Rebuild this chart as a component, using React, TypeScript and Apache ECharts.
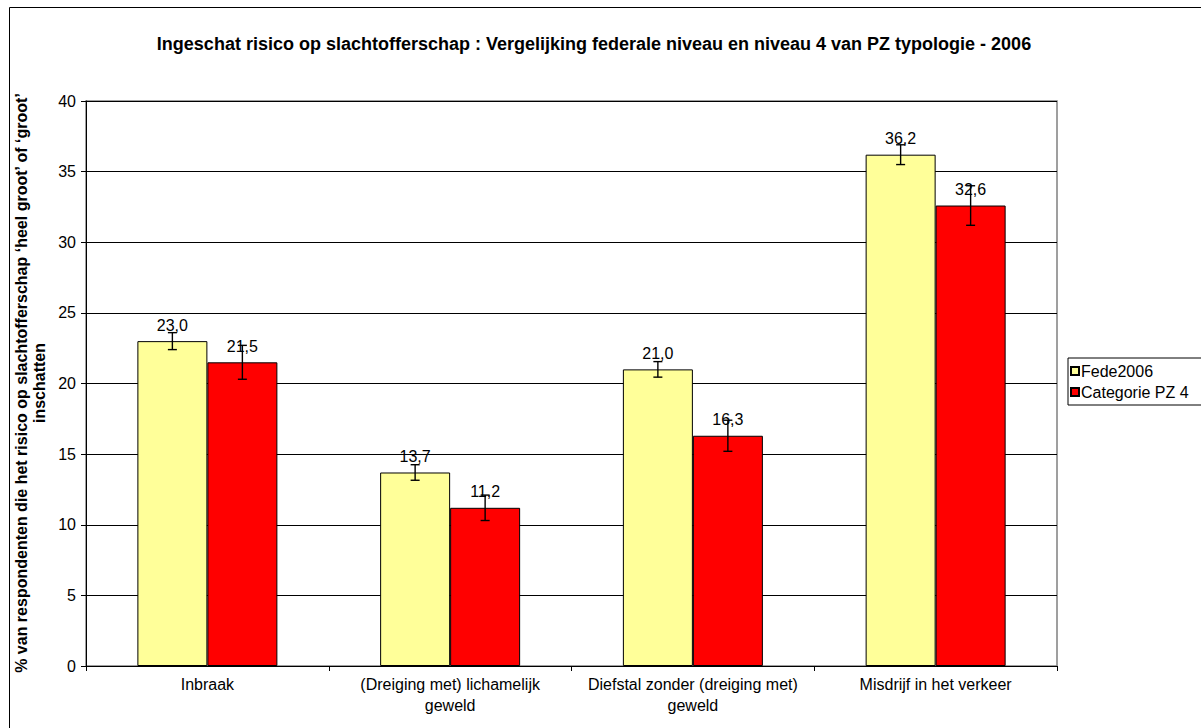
import React, { useEffect, useRef } from "react";
import * as echarts from "echarts";

const categories = [
  "Inbraak",
  "(Dreiging met) lichamelijk\ngeweld",
  "Diefstal zonder (dreiging met)\ngeweld",
  "Misdrijf in het verkeer",
];
const fedeValues = [23.0, 13.7, 21.0, 36.2];
const pzValues = [21.5, 11.2, 16.3, 32.6];
const fedeErrors = [0.6, 0.55, 0.55, 0.7];
const pzErrors = [1.2, 0.9, 1.1, 1.4];
const seriesNames = ["Fede2006", "Categorie PZ 4"];
const title =
  "Ingeschat risico op slachtofferschap : Vergelijking federale niveau en niveau 4 van PZ typologie - 2006";
const yTitle =
  "% van respondenten die het risico op slachtofferschap \u2018heel groot\u2019 of \u2018groot\u2019\ninschatten";

const FONT = "Arial, 'Liberation Sans', sans-serif";
const BAR_W = 70;

function errorSeries(values: number[], errors: number[], offset: number) {
  return {
    type: "custom",
    z: 10,
    silent: true,
    data: values.map((v, i) => [i, v, errors[i]]),
    encode: { x: 0, y: 1 },
    renderItem: (params: any, api: any) => {
      const xi = api.value(0);
      const v = api.value(1);
      const e = api.value(2);
      const top = api.coord([xi, v + e]);
      const bot = api.coord([xi, v - e]);
      const x = top[0] + offset;
      const style = { stroke: "#000", lineWidth: 1.4 };
      return {
        type: "group",
        children: [
          { type: "line", shape: { x1: x, y1: top[1], x2: x, y2: bot[1] }, style },
          { type: "line", shape: { x1: x - 4.5, y1: top[1], x2: x + 4.5, y2: top[1] }, style },
          { type: "line", shape: { x1: x - 4.5, y1: bot[1], x2: x + 4.5, y2: bot[1] }, style },
        ],
      };
    },
  };
}

export default function App() {
  const ref = useRef<HTMLDivElement>(null);
  useEffect(() => {
    const chart = echarts.init(ref.current!, null, { renderer: "svg" });
    const labelCfg = {
      show: true,
      position: "top",
      distance: 8,
      color: "#000",
      fontFamily: FONT,
      fontSize: 16,
      formatter: (p: any) => p.value.toFixed(1).replace(".", ","),
    };
    chart.setOption({
      animation: false,
      backgroundColor: "#fff",
      textStyle: { fontFamily: FONT },
      title: {
        text: title,
        left: 589,
        top: 30,
        textAlign: "center",
        textStyle: { fontFamily: FONT, fontSize: 18, fontWeight: "bold", color: "#000" },
      },
      legend: {
        orient: "vertical",
        left: 1068,
        top: 358,
        padding: [5, 30, 5, 2],
        itemWidth: 8,
        itemHeight: 8,
        itemGap: 5,
        borderColor: "#000",
        borderWidth: 1,
        backgroundColor: "#fff",
        icon: "rect",
        textStyle: { fontFamily: FONT, fontSize: 16, lineHeight: 16, color: "#000", padding: [0, 0, 0, -3] },
        data: seriesNames,
      },
      grid: { left: 86, top: 101, width: 971, height: 565, show: true, borderColor: "#808080", borderWidth: 1.5, backgroundColor: "#fff" },
      xAxis: {
        type: "category",
        data: categories,
        axisLine: { lineStyle: { color: "#000", width: 1 } },
        axisTick: { show: true, length: 5, lineStyle: { color: "#000" } },
        axisLabel: { color: "#000", fontFamily: FONT, fontSize: 16, lineHeight: 21, margin: 8, interval: 0 },
      },
      yAxis: {
        type: "value",
        min: 0,
        max: 40,
        interval: 5,
        axisLine: { show: true, lineStyle: { color: "#000", width: 1 } },
        axisTick: { show: true, length: 5, lineStyle: { color: "#000" } },
        axisLabel: { color: "#000", fontFamily: FONT, fontSize: 16, margin: 10 },
        splitLine: { lineStyle: { color: "#000", width: 1 } },
      },
      graphic: [
        {
          type: "rect",
          shape: { x: 9.5, y: 7.5, width: 1400, height: 900 },
          style: { fill: "none", stroke: "#000", lineWidth: 1 },
          silent: true,
          z: 100,
        },
        {
          type: "text",
          x: 30,
          y: 383,
          rotation: Math.PI / 2,
          style: {
            text: yTitle,
            fill: "#000",
            font: `bold 16px ${FONT}`,
            align: "center",
            verticalAlign: "middle",
            lineHeight: 18,
          },
        },
      ],
      series: [
        {
          name: seriesNames[0],
          type: "bar",
          data: fedeValues,
          barWidth: BAR_W,
          barGap: "0%",
          itemStyle: { color: "#FFFF99", borderColor: "#000", borderWidth: 1 },
          label: labelCfg,
        },
        {
          name: seriesNames[1],
          type: "bar",
          data: pzValues,
          barWidth: BAR_W,
          barGap: "0%",
          itemStyle: { color: "#FF0000", borderColor: "#000", borderWidth: 1 },
          label: labelCfg,
        },
        errorSeries(fedeValues, fedeErrors, -BAR_W / 2),
        errorSeries(pzValues, pzErrors, BAR_W / 2),
      ],
    });
    return () => chart.dispose();
  }, []);
  return <div ref={ref} style={{ position: "absolute", left: 0, top: 0, width: 1201, height: 728 }} />;
}
